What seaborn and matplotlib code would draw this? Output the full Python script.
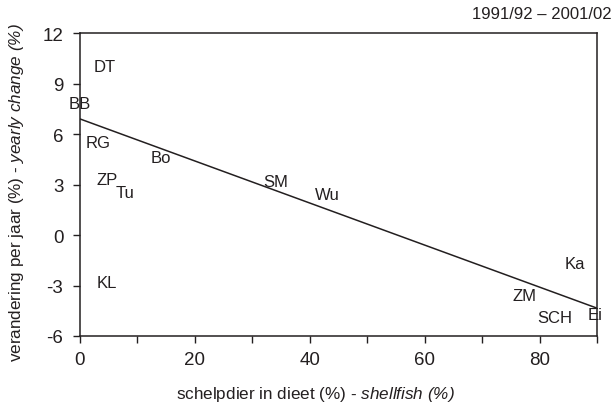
import matplotlib
matplotlib.use("Agg")
import matplotlib.pyplot as plt
import pandas as pd
import seaborn as sns

# area codes and their position (shellfish share in diet, yearly change)
codes = ["DT", "BB", "RG", "Bo", "ZP", "Tu", "SM", "Wu", "KL", "Ka", "ZM", "SCH", "Ei"]
shellfish = [4.3, 0.0, 3.1, 14.1, 4.7, 7.8, 34.1, 43.0, 4.7, 86.1, 77.4, 82.6, 89.6]
yearly_change = [10.0, 7.8, 5.5, 4.6, 3.3, 2.5, 3.2, 2.4, -2.8, -1.7, -3.6, -4.9, -4.7]

# regression line end points
fit_x = [0, 90]
fit_y = [6.9, -4.35]

period = "1991/92 \u2013 2001/02"
x_ticks = [0, 10, 20, 30, 40, 50, 60, 70, 80, 90]
x_ticklabels = ["0", "", "20", "", "40", "", "60", "", "80", ""]
y_ticks = [-6, -3, 0, 3, 6, 9, 12]

sns.set_style("ticks")
plt.rcParams["font.family"] = ["Liberation Sans", "DejaVu Sans"]
plt.rcParams["axes.unicode_minus"] = False
plt.rcParams["mathtext.fontset"] = "custom"
plt.rcParams["mathtext.rm"] = "Liberation Sans:italic"
plt.rcParams["mathtext.it"] = "Liberation Sans:italic"

ink = "#231f20"
df = pd.DataFrame({"code": codes, "x": shellfish, "y": yearly_change})
fit = pd.DataFrame({"x": fit_x, "y": fit_y})

fig = plt.figure(figsize=(6.15, 4.06), dpi=100)
ax = fig.add_axes([0.130, 0.170, 0.841, 0.746])

sns.lineplot(data=fit, x="x", y="y", ax=ax, color=ink, lw=1.1)
for _, r in df.iterrows():
    ax.text(r["x"], r["y"], r["code"], ha="center", va="center",
            fontsize=12, color=ink)

ax.set_xlim(0, 90)
ax.set_ylim(-6, 12)
ax.set_xticks(x_ticks)
ax.set_xticklabels(x_ticklabels)
ax.set_yticks(y_ticks)
ax.tick_params(axis="both", direction="out", length=5, width=1, color=ink,
               labelsize=13.5, labelcolor=ink)
ax.tick_params(axis="x", pad=6)
ax.tick_params(axis="y", pad=7)
for s in ax.spines.values():
    s.set_visible(True)
    s.set_color(ink)
    s.set_linewidth(1.1)

ax.set_xlabel(r"schelpdier in dieet (%) - $shellfish\ (\%)$",
              fontsize=12.3, color=ink)
ax.set_ylabel(r"verandering per jaar (%) - $yearly\ change\ (\%)$",
              fontsize=12.3, color=ink)
ax.xaxis.set_label_coords(0.456, -0.158)
ax.yaxis.set_label_coords(-0.104, 0.478)
fig.text(0.995, 0.965, period, ha="right", va="center", fontsize=12, color=ink)

fig.savefig("out.png", dpi=100)
